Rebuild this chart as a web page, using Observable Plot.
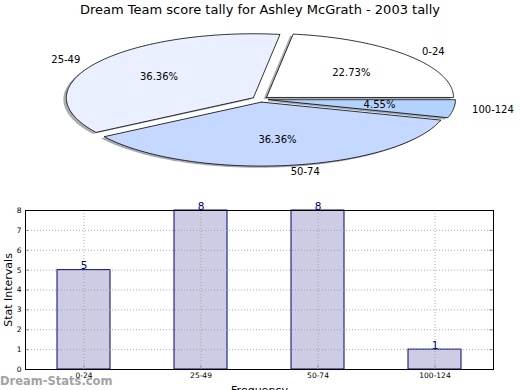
<!DOCTYPE html>
<html>
<head>
<meta charset="utf-8">
<script src="https://cdn.jsdelivr.net/npm/d3@7"></script>
<script src="https://cdn.jsdelivr.net/npm/@observablehq/plot@0.6"></script>
<style>
  html, body { margin: 0; padding: 0; background: #fff; }
  #wrap { position: relative; width: 520px; height: 390px; overflow: hidden; font-family: "DejaVu Sans", sans-serif; }
  #title { position: absolute; left: 0; top: 2px; width: 520px; text-align: center; font-size: 13px; color: #000; }
  #pie { position: absolute; left: 0; top: 0; }
  #bar { position: absolute; left: 0; top: 200px; }
  #wm { position: absolute; left: 0px; top: 374px; font-size: 11.5px; font-weight: bold; color: #a3a3a3; z-index: 5; }
  svg { overflow: visible; }
</style>
</head>
<body>
<div id="wrap">
  <div id="pie"></div>
  <div id="bar"></div>
  <div id="title">Dream Team score tally for Ashley McGrath - 2003 tally</div>
  <div id="wm">Dream-Stats.com</div>
</div>
<script>
// ---- data ----
const categories = ["0-24", "25-49", "50-74", "100-124"];
const counts = [5, 8, 8, 1];
const yTicks = [0, 1, 2, 3, 4, 5, 6, 7, 8];

// ---- styles ----
const sliceColors = ["#ffffff", "#eaf0ff", "#c5d8ff", "#b3d3ff"];
const font = "DejaVu Sans, sans-serif";

// ---- pie (elliptical, exploded, with shadow) ----
const total = d3.sum(counts);
const W = 520, H = 190;
const cx = 259.8, cy = 98.8, rx = 187, ry = 64;
const explode = 0.044;
const shadowOff = [-0.016, -0.026];

let cum = 0;
const slices = categories.map((c, i) => {
  const a1 = 2 * Math.PI * cum / total;
  cum += counts[i];
  const a2 = 2 * Math.PI * cum / total;
  const m = (a1 + a2) / 2;
  const ox = explode * Math.cos(m), oy = explode * Math.sin(m);
  const n = Math.max(4, Math.ceil((a2 - a1) / (Math.PI / 180)));
  const pts = [{x: ox, y: oy}];
  for (let k = 0; k <= n; k++) {
    const a = a1 + (a2 - a1) * k / n;
    pts.push({x: ox + Math.cos(a), y: oy + Math.sin(a)});
  }
  pts.push({x: ox, y: oy});
  const shadow = pts.map(p => ({x: p.x + shadowOff[0], y: p.y + shadowOff[1]}));
  const col = d3.rgb(sliceColors[i]);
  const shadowCol = d3.rgb(col.r * 0.3, col.g * 0.3, col.b * 0.3).formatHex();
  return {
    cat: c, count: counts[i], pts, shadow, color: sliceColors[i], shadowCol,
    label: {x: ox + 1.1 * Math.cos(m), y: oy + 1.1 * Math.sin(m), text: c, anchor: Math.cos(m) > 0 ? "start" : "end"},
    pct: {x: ox + 0.6 * Math.cos(m), y: oy + 0.6 * Math.sin(m), text: (100 * counts[i] / total).toFixed(2) + "%"}
  };
});

const pieMarks = [];
slices.forEach(s => {
  pieMarks.push(Plot.line(s.shadow, {x: "x", y: "y", fill: s.shadowCol, fillOpacity: 0.45, stroke: "none"}));
  pieMarks.push(Plot.line(s.pts, {x: "x", y: "y", fill: s.color, stroke: "#000", strokeWidth: 0.8, strokeLinejoin: "miter"}));
});
pieMarks.push(Plot.text(slices.map(s => s.pct), {x: "x", y: "y", text: "text", fontSize: 10, fill: "#000", textAnchor: "middle"}));
pieMarks.push(Plot.text(slices.map(s => s.label).filter(l => l.anchor === "start"), {x: "x", y: "y", text: "text", fontSize: 10, fill: "#000", textAnchor: "start"}));
pieMarks.push(Plot.text(slices.map(s => s.label).filter(l => l.anchor === "end"), {x: "x", y: "y", text: "text", fontSize: 10, fill: "#000", textAnchor: "end"}));

const pie = Plot.plot({
  width: W, height: H,
  margin: 0,
  style: {fontFamily: font, background: "transparent"},
  x: {domain: [-cx / rx, (W - cx) / rx], range: [0, W], axis: null},
  y: {domain: [(cy - H) / ry, cy / ry], range: [H, 0], axis: null},
  marks: pieMarks
});
document.getElementById("pie").appendChild(pie);

// ---- bar chart ----
const barData = categories.map((c, i) => ({cat: c, count: counts[i]}));
const grid = {stroke: "#999", strokeOpacity: 1, strokeWidth: 0.8, strokeDasharray: "1,2"};
const bar = Plot.plot({
  width: 520, height: 200,
  marginTop: 10, marginLeft: 25, marginRight: 27, marginBottom: 31,
  style: {fontFamily: font, background: "transparent", color: "#000"},
  x: {type: "band", domain: categories, paddingInner: 0.547, paddingOuter: 0.2735, label: null},
  y: {domain: [0, 8], label: null},
  marks: [
    Plot.barY(barData, {x: "cat", y: "count", fill: "#ccccE4", stroke: "#000080", strokeWidth: 1}),
    Plot.gridY(yTicks, grid),
    Plot.gridX(categories, grid),
    Plot.tickY(yTicks, {y: d => d, stroke: "#999", insetRight: 464}),
    Plot.tickY(yTicks, {y: d => d, stroke: "#999", insetLeft: 464}),
    Plot.tickX(categories, {x: d => d, stroke: "#999", insetTop: 155}),
    Plot.frame({stroke: "#000", strokeWidth: 1}),
    Plot.text(barData, {x: "cat", y: "count", text: d => String(d.count), fill: "#000080", fontSize: 10.5, lineAnchor: "bottom", dy: -1}),
    Plot.axisY(yTicks, {tickSize: 0, tickPadding: 4, fontSize: 7.5, label: "Stat Intervals", labelAnchor: "center", labelArrow: "none", labelOffset: 21}),
    Plot.axisX(categories, {tickSize: 0, tickPadding: 3, fontSize: 7.5, label: "Frequency", labelAnchor: "center", labelArrow: "none", labelOffset: 24})
  ]
});
bar.querySelectorAll("[aria-label='y-axis label'] text, [aria-label='x-axis label'] text").forEach(t => t.setAttribute("font-size", "11"));
document.getElementById("bar").appendChild(bar);
</script>
</body>
</html>
